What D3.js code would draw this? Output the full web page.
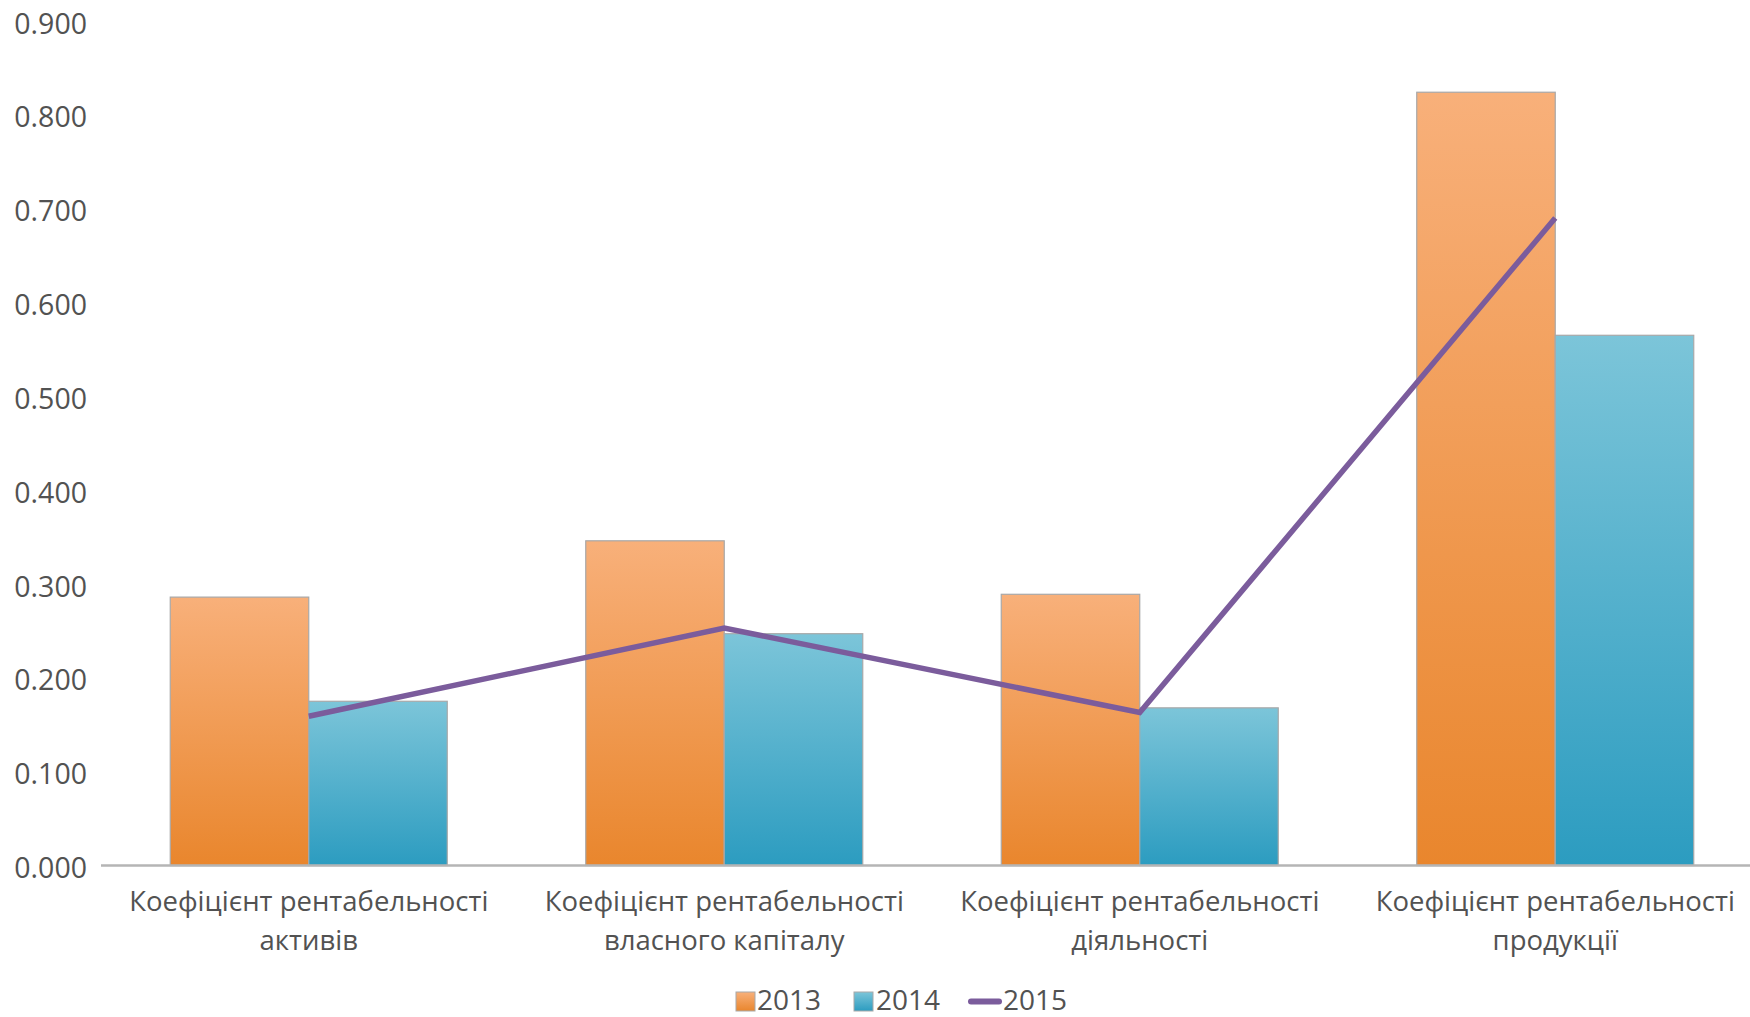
<!DOCTYPE html>
<html><head><meta charset="utf-8">
<script src="https://cdn.jsdelivr.net/npm/d3@7"></script>
<style>
html,body{margin:0;padding:0;background:#fff;}
svg{display:block;}
text{font-family:"Open Sans",sans-serif;fill:#525252;}
</style></head>
<body>
<script>
const categories = [
  ["Коефіцієнт рентабельності","активів"],
  ["Коефіцієнт рентабельності","власного капіталу"],
  ["Коефіцієнт рентабельності","діяльності"],
  ["Коефіцієнт рентабельності","продукції"]
];
const values2013 = [0.286, 0.346, 0.289, 0.824];
const values2014 = [0.175, 0.247, 0.168, 0.565];
const values2015 = [0.159, 0.253, 0.163, 0.690];
const yTicks = [0,0.1,0.2,0.3,0.4,0.5,0.6,0.7,0.8,0.9];
const seriesNames = ["2013","2014","2015"];

const W=1750,H=1017;
const svg=d3.select("body").append("svg").attr("width",W).attr("height",H);
const defs=svg.append("defs");
function grad(id,c1,c2){
  const g=defs.append("linearGradient").attr("id",id).attr("x1",0).attr("y1",0).attr("x2",0).attr("y2",1);
  g.append("stop").attr("offset","0%").attr("stop-color",c1);
  g.append("stop").attr("offset","100%").attr("stop-color",c2);
}
grad("gO","#f8b07a","#e9862d");
grad("gB","#7cc5d9","#2c9cc0");

const x0=d3.scaleBand().domain(d3.range(categories.length)).range([101,1763]).paddingInner(0.3333).paddingOuter(0.16667);
const x1=d3.scaleBand().domain([0,1]).range([0,x0.bandwidth()]);
const y=d3.scaleLinear().domain([0,0.9]).range([865.5,20.9]);

// y axis labels
const yAxis=d3.axisLeft(y).tickValues(yTicks).tickFormat(d3.format(".3f")).tickSize(0).tickPadding(0);
const ya=svg.append("g").attr("transform","translate(87,3)").call(yAxis);
ya.select(".domain").remove();
ya.selectAll("text").style("font-size","28.5px").attr("fill","#525252").style("font-family","'Open Sans',sans-serif");

// bars
const series=[{v:values2013,f:"url(#gO)"},{v:values2014,f:"url(#gB)"}];
series.forEach((s,si)=>{
  svg.append("g").selectAll("rect").data(s.v).join("rect")
    .attr("x",(d,i)=>x0(i)+x1(si))
    .attr("y",d=>y(d))
    .attr("width",x1.bandwidth())
    .attr("height",d=>y(0)-y(d))
    .attr("fill",s.f)
    .attr("stroke","#a8a8a8").attr("stroke-width",1.2);
});

// x axis line
const xAxis=d3.axisBottom(x0).tickSize(0).tickFormat("");
const xa=svg.append("g").attr("transform",`translate(0,${y(0)})`).call(xAxis);
xa.select(".domain").attr("stroke","#b5b5b5").attr("stroke-width",2.5).attr("d","M101,0H1763");

// category labels
categories.forEach((c,i)=>{
  const cx=x0(i)+x0.bandwidth()/2;
  const t=svg.append("text").attr("text-anchor","middle").style("font-size","27.5px");
  c.forEach((line,j)=>{
    t.append("tspan").attr("x",cx).attr("y",911+j*38.5).text(line);
  });
});

// line 2015
const line=d3.line().x((d,i)=>x0(i)+x0.bandwidth()/2).y(d=>y(d));
svg.append("path").datum(values2015).attr("d",line).attr("fill","none")
  .attr("stroke","#7b5c9c").attr("stroke-width",5.5).attr("stroke-linejoin","miter");

// legend
const lg=svg.append("g");
lg.append("rect").attr("x",736).attr("y",992).attr("width",19).attr("height",19).attr("fill","url(#gO)").attr("stroke","#a8a8a8");
lg.append("text").attr("x",757).attr("y",1010).style("font-size","28px").text(seriesNames[0]);
lg.append("rect").attr("x",854).attr("y",992).attr("width",19).attr("height",19).attr("fill","url(#gB)").attr("stroke","#a8a8a8");
lg.append("text").attr("x",876).attr("y",1010).style("font-size","28px").text(seriesNames[1]);
lg.append("line").attr("x1",971).attr("x2",999).attr("y1",1001.5).attr("y2",1001.5).attr("stroke","#7b5c9c").attr("stroke-width",6).attr("stroke-linecap","round");
lg.append("text").attr("x",1003).attr("y",1010).style("font-size","28px").text(seriesNames[2]);
</script>
</body></html>
